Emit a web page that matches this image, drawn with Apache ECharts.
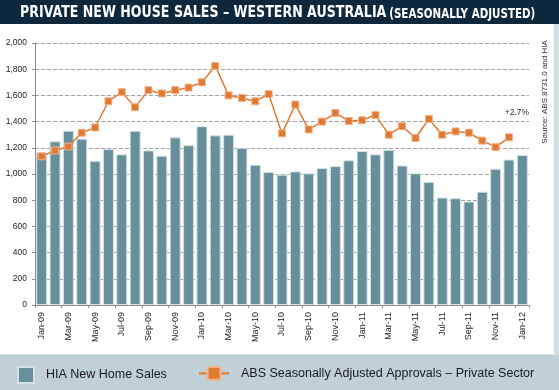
<!DOCTYPE html>
<html>
<head>
<meta charset="utf-8">
<script src="https://cdn.jsdelivr.net/npm/echarts@6/dist/echarts.min.js"></script>
<style>
html,body{margin:0;padding:0;background:#fff;}
#c{width:559px;height:390px;}
</style>
</head>
<body>
<div id="c"></div>
<script>
var months = ['Jan-09','Feb-09','Mar-09','Apr-09','May-09','Jun-09','Jul-09','Aug-09','Sep-09','Oct-09','Nov-09','Dec-09',
  'Jan-10','Feb-10','Mar-10','Apr-10','May-10','Jun-10','Jul-10','Aug-10','Sep-10','Oct-10','Nov-10','Dec-10',
  'Jan-11','Feb-11','Mar-11','Apr-11','May-11','Jun-11','Jul-11','Aug-11','Sep-11','Oct-11','Nov-11','Dec-11','Jan-12'];
var hiaSales = [1165,1250,1330,1270,1100,1190,1150,1330,1180,1140,1280,1220,
  1365,1295,1300,1200,1070,1015,995,1020,1005,1045,1060,1105,
  1175,1150,1185,1065,1005,940,820,815,790,865,1040,1110,1145];
var absApprovals = [1135,1180,1210,1315,1355,1555,1625,1510,1640,1615,1640,1660,
  1700,1825,1600,1580,1555,1610,1310,1530,1340,1400,1465,1405,
  1410,1450,1300,1365,1275,1420,1300,1325,1315,1255,1205,1280,null];
var yTicks = {min:0, max:2000, interval:200};
var titleMain = 'PRIVATE NEW HOUSE SALES – WESTERN AUSTRALIA';
var titleSub = '(SEASONALLY ADJUSTED)';
var seriesNames = ['HIA New Home Sales','ABS Seasonally Adjusted Approvals – Private Sector'];
var annotation = '+2.7%';
var sourceText = 'Source: ABS 8731.0 and HIA';

var chart = echarts.init(document.getElementById('c'), null, {renderer:'canvas'});
var legendText = {fontFamily:'Liberation Sans, Arial, sans-serif', fontSize:12.5, color:'#1a1a1a', padding:[0,0,0,7]};
var titleFont = 'DejaVu Sans Condensed, Liberation Sans Narrow, sans-serif';
chart.setOption({
  animation:false,
  backgroundColor:'#ffffff',
  graphic:[
    {type:'rect', z:-10, shape:{x:0,y:0,width:559,height:24}, style:{fill:'#0d283c'}},
    {type:'rect', z:-10, shape:{x:554,y:24,width:5,height:331}, style:{fill:'#d3dfe3'}},
    {type:'rect', z:-10, shape:{x:0,y:354,width:559,height:36}, style:{fill:'#bfd1d7'}},
    {type:'rect', z:-9, shape:{x:0,y:354,width:559,height:1}, style:{fill:'#d6e2e6'}},
    {type:'text', x:20, y:13, scaleX:0.85, scaleY:1, z:5,
      style:{text:'{a|'+titleMain+'} {b|'+titleSub+'}', verticalAlign:'middle', align:'left',
        rich:{
          a:{fontFamily:titleFont, fontWeight:'bold', fontSize:16.5, fill:'#ffffff', color:'#ffffff'},
          b:{fontFamily:titleFont, fontWeight:'bold', fontSize:13.5, fill:'#ffffff', color:'#ffffff', padding:[2,0,0,0]}
        }}},
    {type:'text', x:529, y:112.5, style:{text:annotation, align:'right', verticalAlign:'middle', fontFamily:'Liberation Sans, Arial, sans-serif', fontSize:8.5, fill:'#1c2b3a'}},
    {type:'text', x:545, y:92, rotation:Math.PI/2, style:{text:sourceText, align:'center', verticalAlign:'middle', fontFamily:'Liberation Sans, Arial, sans-serif', fontSize:8, fill:'#1c2b3a'}}
  ],
  legend:[
    {data:[{name:seriesNames[0], icon:'rect'}], left:17, top:366, padding:0, itemWidth:16, itemHeight:16, textStyle:legendText, selectedMode:false},
    {data:[seriesNames[1]], left:198, top:366, padding:0, itemWidth:30, itemHeight:16, textStyle:legendText, selectedMode:false}
  ],
  grid:{left:35, right:30, top:43, bottom:85, containLabel:false},
  xAxis:{
    type:'category', data:months, boundaryGap:true,
    axisLine:{lineStyle:{color:'#8c8c8c', width:1}},
    axisTick:{show:true, interval:1, length:3, lineStyle:{color:'#8c8c8c'}},
    axisLabel:{interval:1, rotate:90, margin:7, fontFamily:'Liberation Sans, Arial, sans-serif', fontSize:9, color:'#222'}
  },
  yAxis:{
    type:'value', min:yTicks.min, max:yTicks.max, interval:yTicks.interval,
    axisLine:{show:true, lineStyle:{color:'#8c8c8c', width:1}},
    axisTick:{show:true, length:3, lineStyle:{color:'#8c8c8c'}},
    axisLabel:{margin:8, fontFamily:'Liberation Sans, Arial, sans-serif', fontSize:8.5, color:'#222',
      formatter:function(v){return v.toLocaleString('en-US');}},
    splitLine:{show:true, lineStyle:{color:'#a3a3a3', type:[4,2], width:1}}
  },
  series:[
    {name:seriesNames[0], type:'bar', data:hiaSales, barCategoryGap:'18%',
      itemStyle:{color:'#668f9b', borderColor:'#d3e1e5', borderWidth:1}},
    {name:seriesNames[1], type:'line', data:absApprovals, symbol:'rect', symbolSize:7,
      lineStyle:{color:'#e07a32', width:1.5},
      itemStyle:{color:'#e07a32', borderColor:'#f2b48a', borderWidth:1}}
  ]
});
</script>
</body>
</html>
